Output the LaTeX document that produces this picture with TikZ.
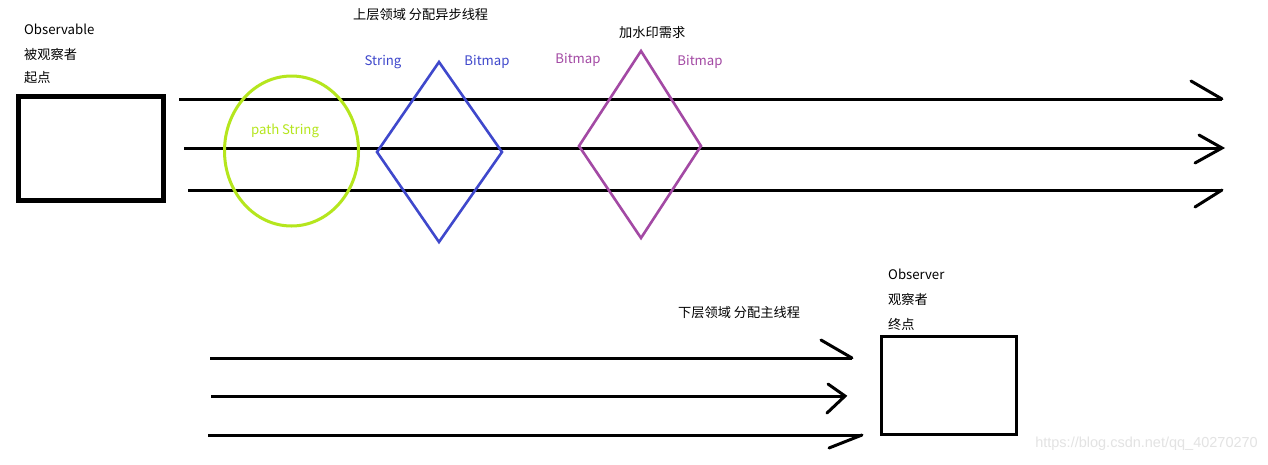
\documentclass[tikz,border=0pt]{standalone}
\usepackage{fontspec}
\setmainfont{Noto Sans CJK SC}
\newfontfamily\wmfont{Liberation Sans}
\definecolor{limeg}{HTML}{B5E61D}
\definecolor{indig}{HTML}{3F48CC}
\definecolor{purp}{HTML}{A349A4}
\definecolor{wmgray}{HTML}{E3E3E3}
\tikzset{
  lbl/.style={inner sep=0pt, font=\fontsize{13.2}{15}\selectfont},
  flow/.style={line width=3pt, black},
  barb/.style={line width=3pt, black, line cap=round},
  dia/.style={line width=2.6pt, line join=miter},
}
\begin{document}
\begin{tikzpicture}[x=1pt,y=-1pt]
\useasboundingbox (0,0) rectangle (1268,464);
\fill[white] (0,0) rectangle (1268,464);

% source box
\node[lbl, anchor=west] (t1) at (24,29) {Observable};
\node[lbl, anchor=west] (t2) at (24,54) {被观察者};
\node[lbl, anchor=west] (t3) at (24,78) {起点};
\draw[line width=5pt] (18.5,96.5) rectangle (163.5,200.5);

% header texts
\node[lbl, anchor=west] (up) at (353,15) {上层领域 分配异步线程};
\node[lbl, anchor=west] (wm) at (619,33) {加水印需求};

% top flow lines
\coordinate (a1s) at (179,99);  \coordinate (a1e) at (1222,99);
\coordinate (a2s) at (184,148); \coordinate (a2e) at (1222,148);
\coordinate (a3s) at (188,190); \coordinate (a3e) at (1222,190);
\draw[flow] (a1s) -- (a1e);
\draw[flow] (a2s) -- (a2e);
\draw[flow] (a3s) -- (a3e);
\coordinate (b1u) at (1191,81);
\coordinate (b2u) at (1199,135);
\coordinate (b2l) at (1195,163);
\coordinate (b3l) at (1195,207);
\draw[barb] (b1u) -- (a1e);
\draw[barb] (b2u) -- (a2e) -- (b2l);
\draw[barb] (b3l) -- (a3e);

% green ellipse
\draw[limeg, line width=3pt] (291.5,151) ellipse [x radius=67, y radius=75];
\node[lbl, text=limeg] (ps) at (285,131) {path String};

% blue diamond
\coordinate (d1t) at (439,62); \coordinate (d1r) at (502,152);
\coordinate (d1b) at (439,242); \coordinate (d1l) at (377,152);
\draw[dia, indig] (d1t) -- (d1r) -- (d1b) -- (d1l) -- cycle;
\node[lbl, text=indig] (s1) at (383,62) {String};
\node[lbl, text=indig] (s2) at (487,62) {Bitmap};

% purple diamond
\coordinate (d2t) at (641,51); \coordinate (d2r) at (701,146);
\coordinate (d2b) at (641,238); \coordinate (d2l) at (579,146);
\draw[dia, purp] (d2t) -- (d2r) -- (d2b) -- (d2l) -- cycle;
\node[lbl, text=purp] (p1) at (578,60) {Bitmap};
\node[lbl, text=purp] (p2) at (700,62) {Bitmap};

% lower texts
\node[lbl, anchor=west] (down) at (678,313) {下层领域 分配主线程};
\node[lbl, anchor=west] (o1) at (888,274) {Observer};
\node[lbl, anchor=west] (o2) at (888,299) {观察者};
\node[lbl, anchor=west] (o3) at (888,324) {终点};
\draw[line width=3.5pt] (881.5,336.5) rectangle (1016.5,434.5);

% bottom flow lines
\coordinate (c1s) at (210,358); \coordinate (c1e) at (852,358);
\coordinate (c2s) at (211,396); \coordinate (c2e) at (845,396);
\coordinate (c3s) at (208,435); \coordinate (c3e) at (862,435);
\draw[flow] (c1s) -- (c1e);
\draw[flow] (c2s) -- (c2e);
\draw[flow] (c3s) -- (c3e);
\coordinate (e1u) at (821,340);
\coordinate (e2u) at (828,384);
\coordinate (e2l) at (827,413);
\coordinate (e3l) at (829,448);
\draw[barb] (e1u) -- (c1e);
\draw[barb] (e2u) -- (c2e) -- (e2l);
\draw[barb] (e3l) -- (c3e);

% watermark
\node[inner sep=0pt, anchor=east, text=wmgray, font=\wmfont\fontsize{14.5}{16}\selectfont] (wmk) at (1258,444) {https://blog.csdn.net/qq\_40270270};
\end{tikzpicture}
\end{document}
